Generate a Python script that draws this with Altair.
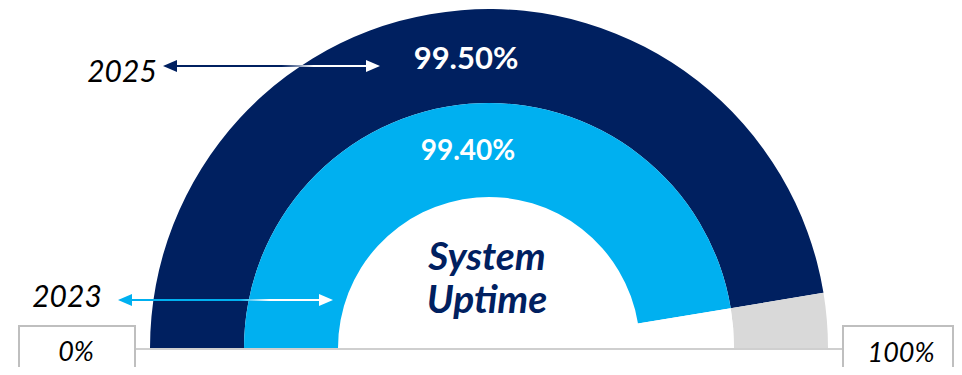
import math
import altair as alt
import pandas as pd

# ---- data ----
years = ["2025", "2023"]                 # outer ring, inner ring
uptime_labels = ["99.50%", "99.40%"]     # labels printed on the rings
filled_share = [94.8, 94.8]              # share of the half circle that is filled
gauge_ends = ["0%", "100%"]
title_lines = ["System", "Uptime"]

NAVY = "#002060"
LIGHT = "#00B0F0"
GREY = "#D9D9D9"
BOX = "#BFBFBF"
FONT = "Lato"

# segments table
rows = []
for yr, share in zip(years, filled_share):
    rows.append({"year": yr, "key": yr + " filled", "start": 0.0, "end": share})
    rows.append({"year": yr, "key": yr + " rest", "start": share, "end": 100.0})
seg = pd.DataFrame(rows)

color_scale = alt.Scale(
    domain=["2025 filled", "2025 rest", "2023 filled", "2023 rest"],
    range=[NAVY, GREY, LIGHT, "#FFFFFF"],
)
theta_scale = alt.Scale(domain=[0, 100], range=[1.5 * math.pi, 2.5 * math.pi])

CX, CY = 481, 340


def ring(year, r_out, r_in):
    return (
        alt.Chart(seg)
        .transform_filter(alt.datum.year == year)
        .mark_arc(strokeWidth=0)
        .encode(
            x=alt.value(CX),
            y=alt.value(CY),
            theta=alt.Theta("start:Q", scale=theta_scale, stack=False),
            theta2=alt.Theta2("end:Q"),
            radius=alt.value(r_out),
            radius2=alt.value(r_in),
            color=alt.Color("key:N", scale=color_scale, legend=None),
        )
    )


def text_layer(txt, x, y, size, color, weight="normal", style="normal", baseline="alphabetic"):
    return (
        alt.Chart(pd.DataFrame({"t": [txt]}))
        .mark_text(
            font=FONT, fontSize=size, fontWeight=weight, fontStyle=style,
            color=color, align="center", baseline=baseline,
        )
        .encode(text="t:N", x=alt.value(x), y=alt.value(y))
    )


def arrow(y, x_left, x_right, color, solid_until, white_from):
    line = (
        alt.Chart(pd.DataFrame({"a": [0]}))
        .mark_rect(
            fill=alt.LinearGradient(
                gradient="linear",
                stops=[
                    alt.GradientStop(color=color, offset=0),
                    alt.GradientStop(color=color, offset=solid_until),
                    alt.GradientStop(color="#FFFFFF", offset=white_from),
                    alt.GradientStop(color="#FFFFFF", offset=1),
                ],
                x1=0, x2=1, y1=0, y2=0,
            )
        )
        .encode(
            x=alt.value(x_left + 8), x2=alt.value(x_right - 8),
            y=alt.value(y - 1), y2=alt.value(y + 1),
        )
    )
    right_shape = "M1,0 L-1,-0.85 L-1,0.85 Z"
    left_shape = "M-1,0 L1,-0.85 L1,0.85 Z"
    lh = (
        alt.Chart(pd.DataFrame({"a": [0]}))
        .mark_point(shape=left_shape, filled=True, size=196, color=color, opacity=1, strokeWidth=0)
        .encode(x=alt.value(x_left + 7), y=alt.value(y))
    )
    rh = (
        alt.Chart(pd.DataFrame({"a": [0]}))
        .mark_point(shape=right_shape, filled=True, size=196, color="#FFFFFF", opacity=1, strokeWidth=0)
        .encode(x=alt.value(x_right - 7), y=alt.value(y))
    )
    return [line, lh, rh]


baseline_rule = (
    alt.Chart(pd.DataFrame({"a": [0]}))
    .mark_rule(color=BOX, strokeWidth=1.5)
    .encode(x=alt.value(11), x2=alt.value(946), y=alt.value(341))
)


def box(x1, x2):
    return (
        alt.Chart(pd.DataFrame({"a": [0]}))
        .mark_rect(fill="#FFFFFF", stroke=BOX, strokeWidth=2)
        .encode(x=alt.value(x1), x2=alt.value(x2), y=alt.value(318), y2=alt.value(390))
    )


layers = [
    baseline_rule,
    ring(years[0], 339, 245),
    ring(years[1], 245, 151),
    text_layer(uptime_labels[0], 458, 52, 31, "#FFFFFF", weight="bold", baseline="middle"),
    text_layer(uptime_labels[1], 460, 144, 28, "#FFFFFF", weight="bold", baseline="middle"),
    text_layer(title_lines[0], 479, 262, 39, NAVY, weight="bold", style="italic"),
    text_layer(title_lines[1], 479, 305, 39, NAVY, weight="bold", style="italic"),
    text_layer(years[0], 114, 74, 30, "#000000", style="italic"),
    text_layer(years[1], 59, 299, 30, "#000000", style="italic"),
]
layers += arrow(58, 155, 372, NAVY, 0.55, 0.71)
layers += arrow(292, 110, 325, LIGHT, 0.57, 0.72)
layers += [
    box(11, 127),
    box(835, 945),
    text_layer(gauge_ends[0], 68, 353, 27, "#000000", style="italic"),
    text_layer(gauge_ends[1], 893, 354, 27, "#000000", style="italic"),
]

chart = (
    alt.layer(*layers)
    .properties(width=946, height=359, autosize=alt.AutoSizeParams(type="none"), padding=0,
                background="#FFFFFF")
    .configure_view(strokeWidth=0)
)

chart.save("out.html", embed_options={"renderer": "svg", "actions": False})
